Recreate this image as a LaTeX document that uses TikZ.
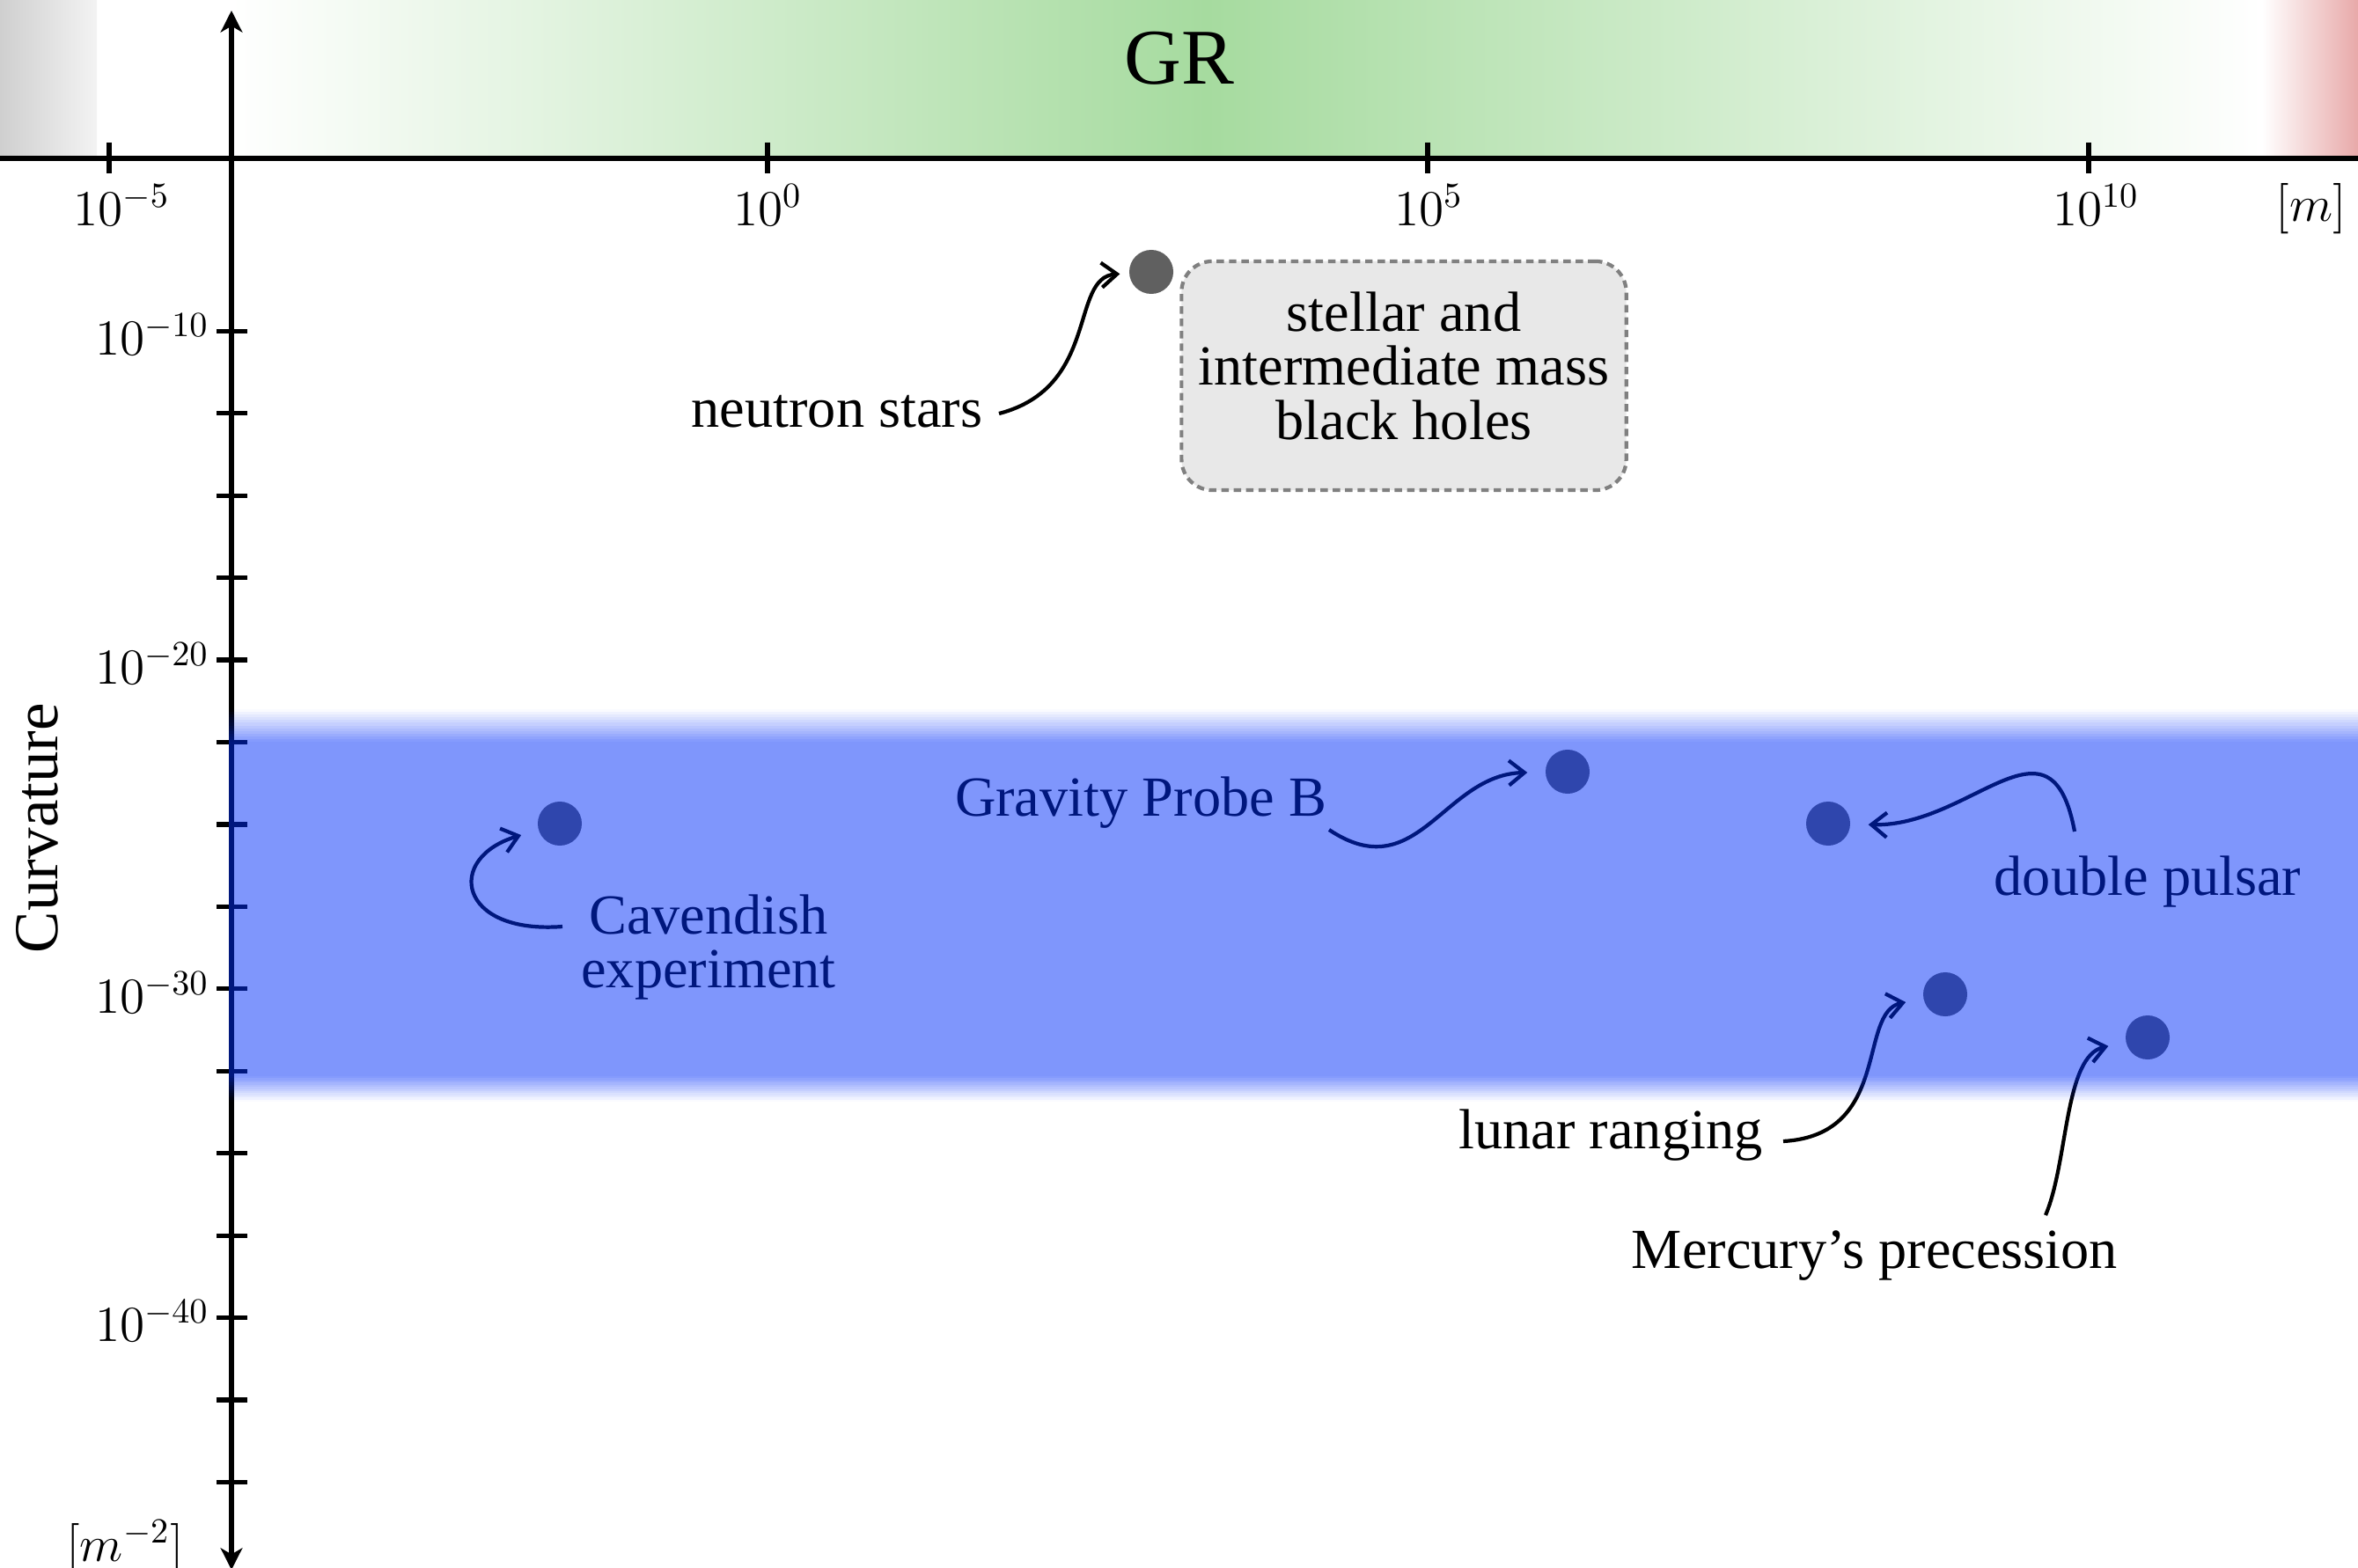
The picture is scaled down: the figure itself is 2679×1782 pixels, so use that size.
\RequirePackage{fix-cm}
\documentclass[tikz,border=0pt]{standalone}
\usepackage[no-math]{fontspec}
\setmainfont{Liberation Serif}
\usetikzlibrary{arrows.meta}
\definecolor{bandcol}{rgb}{0,0.18,0.98}
\definecolor{grpeak}{HTML}{A6DB9F}
\definecolor{dotgray}{HTML}{606060}
\definecolor{boxfill}{HTML}{E8E8E8}
\definecolor{boxline}{HTML}{808080}
\definecolor{leftgray}{HTML}{CFCFCF}
\definecolor{leftlight}{HTML}{F3F3F3}
\definecolor{rightred}{HTML}{E8A9A9}
\tikzset{
  lbl/.style={font=\fontsize{18.3}{17.4}\selectfont, inner sep=0pt, align=center},
  ticklbl/.style={font=\fontsize{16.3}{19}\selectfont, inner sep=0pt},
  axisline/.style={line width=1.5pt},
  tickmark/.style={line width=1.5pt},
  dotnode/.style={circle, fill=dotgray, minimum size=0.5cm, inner sep=0pt},
  callout/.style={line width=1.2pt, -{Straight Barb[length=5pt,width=8pt]}, shorten >=0.2cm},
  bhbox/.style={draw=boxline, fill=boxfill, dash pattern=on 2.4pt off 1.6pt, line width=1.2pt, rounded corners=0.35cm, inner sep=0pt}
}
\begin{document}
\begin{tikzpicture}[x=0.01cm,y=-0.01cm]
\useasboundingbox (0,0) rectangle (2679,1782);
% top GR bar
\shade[left color=leftgray, right color=leftlight] (0,0) rectangle (110,180);
\shade[left color=white, right color=grpeak] (262,0) rectangle (1371,180);
\shade[left color=grpeak, right color=white] (1370,0) rectangle (2570,180);
\shade[left color=white, right color=rightred] (2570,0) rectangle (2679,180);
\node[font=\fontsize{25.5}{30}\selectfont, inner sep=0pt] (gr) at (1340,66) {GR};
% horizontal axis
\draw[line width=1.7pt] (0,180) -- (2679,180);
\foreach \x in {124,872,1622,2373} \draw[tickmark] (\x,162) -- (\x,197);
\node[ticklbl, anchor=north] (xl1) at (138,209) {$10^{-5}$};
\node[ticklbl, anchor=north] (xl2) at (872,209) {$10^{0}$};
\node[ticklbl, anchor=north] (xl3) at (1623,209) {$10^{5}$};
\node[ticklbl, anchor=north] (xl4) at (2381,209) {$10^{10}$};
\node[ticklbl, anchor=north] (xunit) at (2626,208) {$[m]$};
% vertical axis
\draw[axisline, {Stealth[length=7pt,width=7pt,inset=2pt]}-{Stealth[length=7pt,width=7pt,inset=2pt]}] (263,1784) -- (263,12);
\foreach \k in {0,...,14} \draw[tickmark] (246,{376.3+93.44*\k}) -- (281,{376.3+93.44*\k});
\node[ticklbl, anchor=east] (yl1) at (238,380) {$10^{-10}$};
\node[ticklbl, anchor=east] (yl2) at (238,754) {$10^{-20}$};
\node[ticklbl, anchor=east] (yl3) at (238,1128) {$10^{-30}$};
\node[ticklbl, anchor=east] (yl4) at (238,1501) {$10^{-40}$};
\node[ticklbl, anchor=north] (yunit) at (142,1727) {$[m^{-2}]$};
\node[font=\fontsize{20.2}{24}\selectfont, inner sep=0pt, rotate=90] (ylab) at (42,941) {Curvature};
% black hole box
\node[bhbox, lbl, minimum width=5.05cm, minimum height=2.6cm] (bh) at (1595,427)
  {stellar and\\intermediate mass\\black holes\rule[-0.23cm]{0pt}{0pt}};
% dots
\node[dotnode] (ns) at (1308,309) {};
\node[dotnode] (cav) at (636,936) {};
\node[dotnode] (gpb) at (1781,877) {};
\node[dotnode] (dp) at (2077,936) {};
\node[dotnode] (llr) at (2210,1130) {};
\node[dotnode] (mer) at (2440,1179) {};
% labels
\node[lbl, anchor=base] (nsl) at (951,485) {neutron stars};
\node[lbl, anchor=north] (cavl) at (805,1016) {Cavendish\\experiment};
\node[lbl, anchor=base] (gpbl) at (1296,927) {Gravity Probe B};
\node[lbl, anchor=base] (dpl) at (2440,1017) {double pulsar};
\node[lbl, anchor=base] (llrl) at (1830,1305) {lunar ranging};
\node[lbl, anchor=base] (merl) at (2130,1441) {Mercury's precession};
% connectors
\coordinate (nsA) at (1135,470);
\coordinate (cavA) at (639,1053);
\coordinate (gpbA) at (1510,943);
\coordinate (dpA) at (2357,945);
\coordinate (llrA) at (2026,1297);
\coordinate (merA) at (2324,1381);
\draw[callout, shorten >=0.1cm] (nsA) .. controls (1250,440) and (1215,315) .. (ns);
\draw[callout] (cavA) .. controls (520,1062) and (505,975) .. (cav);
\draw[callout] (gpbA) .. controls (1610,1010) and (1640,880) .. (gpb);
\draw[callout] (dpA) .. controls (2330,800) and (2240,940) .. (dp);
\draw[callout] (llrA) .. controls (2150,1290) and (2110,1150) .. (llr);
\draw[callout] (merA) .. controls (2350,1320) and (2345,1200) .. (mer);
% translucent band (Newtonian / weak-field tests)
\fill[bandcol, fill opacity=0.5] (260,843) rectangle (2679,1223);
\foreach \i in {0,...,11} {
  \pgfmathsetmacro\op{0.5*(\i+0.5)/12}
  \fill[bandcol, fill opacity=\op] (260,{806+\i*37/12}) rectangle (2679,{806+(\i+1)*37/12});
  \fill[bandcol, fill opacity=\op] (260,{1252-\i*29/12}) rectangle (2679,{1252-(\i+1)*29/12});
}
\end{tikzpicture}
\end{document}
